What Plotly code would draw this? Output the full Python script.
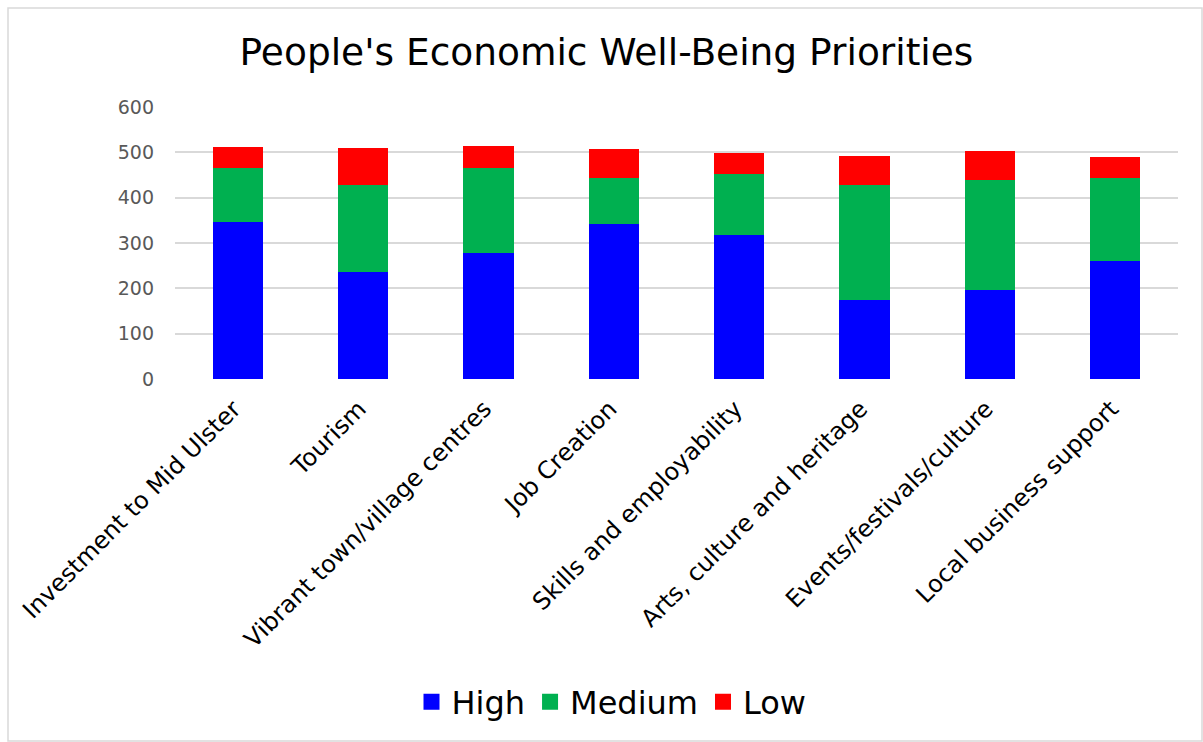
import plotly.graph_objects as go

categories = [
    "Investment to Mid Ulster",
    "Tourism",
    "Vibrant town/village centres",
    "Job Creation",
    "Skills and employability",
    "Arts, culture and heritage",
    "Events/festivals/culture",
    "Local business support",
]
high = [346, 235, 277, 341, 318, 175, 196, 261]
medium = [119, 194, 188, 102, 135, 254, 242, 183]
low = [46, 80, 49, 64, 46, 64, 65, 46]
y_ticks = [0, 100, 200, 300, 400, 500, 600]

FONT = "DejaVu Sans"
series = [("High", high, "#0000FF"),
          ("Medium", medium, "#00B050"),
          ("Low", low, "#FF0000")]

fig = go.Figure()
for name, vals, color in series:
    fig.add_trace(go.Bar(x=categories, y=vals, name=name, showlegend=False,
                         marker=dict(color=color, line=dict(width=0))))

# legend entries with larger square swatches
for name, vals, color in series:
    fig.add_trace(go.Scatter(x=[None], y=[None], mode="markers", name=name,
                             marker=dict(symbol="square", size=16, color=color)))

fig.update_layout(
    barmode="stack",
    bargap=0.6,
    width=1203, height=742,
    margin=dict(l=175, r=25, t=107, b=363, autoexpand=False),
    paper_bgcolor="white", plot_bgcolor="white",
    font=dict(family=FONT, color="black"),
    title=dict(text="People's Economic Well-Being Priorities",
               x=(606.5) / 1203, xanchor="center", y=1 - 52 / 742, yanchor="middle",
               font=dict(size=37.5, color="black", family=FONT)),
    legend=dict(orientation="h", x=(611.5 - 175) / 1003, xanchor="center",
                y=(379 - 702) / 272, yanchor="middle", traceorder="normal",
                font=dict(size=32, color="black", family=FONT),
                itemsizing="trace", itemwidth=30),
    xaxis=dict(tickangle=-45, tickfont=dict(size=24, color="black", family=FONT),
               showgrid=False, showline=False, ticks="", automargin=False,
               ticklabelstandoff=10, ticklabelshift=-4),
    yaxis=dict(range=[0, 600], tickvals=y_ticks, showgrid=True,
               gridcolor="#D9D9D9", gridwidth=1.5, zeroline=False,
               tickfont=dict(size=19, color="#595959", family=FONT),
               ticks="", ticklabelstandoff=20, automargin=False),
    shapes=[dict(type="rect", xref="paper", yref="paper",
                 x0=(8 - 175) / 1003, x1=(1202 - 175) / 1003,
                 y0=(379 - 741) / 272, y1=(379 - 8) / 272,
                 line=dict(color="#D9D9D9", width=1.5), layer="below")],
)

fig.write_html("out.html")
